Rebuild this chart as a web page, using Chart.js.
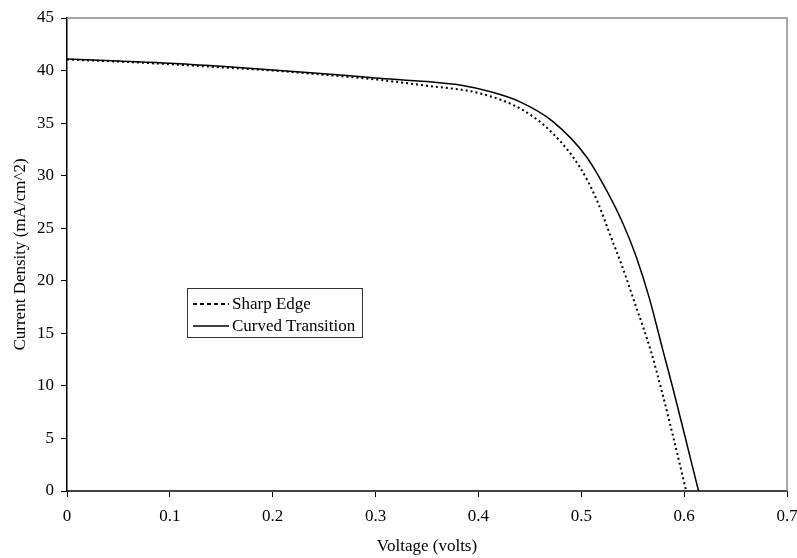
<!DOCTYPE html>
<html>
<head>
<meta charset="utf-8">
<script src="https://cdn.jsdelivr.net/npm/chart.js@4/dist/chart.umd.min.js"></script>
<style>
  html, body { margin: 0; padding: 0; background: #fff; }
  .grafico { position: relative; width: 797px; height: 558px; }
  #legenda {
    position: absolute; left: 187px; top: 288px; width: 176px; height: 50px;
    border: 1px solid #333; background: #fff;
    font: 17px "Liberation Serif", "Times New Roman", serif; color: #000;
    box-sizing: border-box; padding: 4px 0 0 5px;
  }
  #legenda .item { height: 22px; display: flex; align-items: center; }
  #legenda canvas { margin-right: 3px; }
</style>
</head>
<body>
<div class="grafico">
  <canvas id="chartIV" width="797" height="558"></canvas>
  <div id="legenda"></div>
</div>
<script>
// I-V curves (voltage in volts, current density in mA/cm^2)
const voltageSharp = [0, 0.05, 0.1, 0.15, 0.2, 0.25, 0.3, 0.35, 0.401, 0.443, 0.4725, 0.498, 0.515, 0.5275, 0.54, 0.552, 0.568, 0.578, 0.589, 0.602];
const currentSharp = [41.05, 40.85, 40.6, 40.3, 40.0, 39.6, 39.15, 38.55, 37.84, 36.25, 34.0, 30.9, 27.7, 24.5, 21.3, 17.9, 13.2, 9.6, 5.3, 0];

const voltageCurved = [0, 0.05, 0.1, 0.15, 0.2, 0.25, 0.3, 0.35, 0.382, 0.411, 0.44, 0.4725, 0.505, 0.5243, 0.5404, 0.5534, 0.5663, 0.5793, 0.589, 0.6003, 0.614];
const currentCurved = [41.1, 40.9, 40.7, 40.4, 40.05, 39.7, 39.3, 38.95, 38.63, 38.0, 37.04, 35.14, 31.8, 28.64, 25.47, 22.29, 18.3, 13.4, 9.8, 5.4, 0];

const seriesNames = ["Sharp Edge", "Curved Transition"];
const xTicks = [0, 0.1, 0.2, 0.3, 0.4, 0.5, 0.6, 0.7];
const yTicks = [0, 5, 10, 15, 20, 25, 30, 35, 40, 45];

const fonte = { family: '"Liberation Serif", "Times New Roman", serif', size: 17 };

function pares(xs, ys) {
  return xs.map((x, i) => ({ x: x, y: ys[i] }));
}

// gray frame on the top and right side of the plot area
const moldura = {
  id: 'moldura',
  afterDraw(chart) {
    const a = chart.chartArea;
    const ctx = chart.ctx;
    ctx.save();
    ctx.strokeStyle = '#8a8a8a';
    ctx.lineWidth = 1.5;
    ctx.beginPath();
    ctx.moveTo(a.left, a.top);
    ctx.lineTo(a.right, a.top);
    ctx.lineTo(a.right, a.bottom);
    ctx.stroke();
    ctx.restore();
  }
};

const graph = new Chart("chartIV", {
  type: "line",
  data: {
    datasets: [
      {
        label: seriesNames[0],
        data: pares(voltageSharp, currentSharp),
        borderColor: '#000',
        borderWidth: 2,
        borderDash: [2, 3],
        pointRadius: 0,
        cubicInterpolationMode: 'monotone',
        fill: false
      },
      {
        label: seriesNames[1],
        data: pares(voltageCurved, currentCurved),
        borderColor: '#000',
        borderWidth: 1.5,
        pointRadius: 0,
        cubicInterpolationMode: 'monotone',
        fill: false
      }
    ]
  },
  options: {
    responsive: false,
    animation: false,
    layout: { padding: { left: 0, top: 18, right: 10, bottom: 0 } },
    plugins: { legend: { display: false }, tooltip: { enabled: false } },
    scales: {
      x: {
        type: 'linear',
        min: 0, max: 0.7,
        afterBuildTicks: (s) => { s.ticks = xTicks.map(v => ({ value: v })); },
        afterFit: (s) => { s.height = 67; s.paddingLeft = 0; s.paddingRight = 0; },
        grid: { drawOnChartArea: false, drawTicks: true, tickLength: 6, color: '#000', lineWidth: 1 },
        border: { color: '#444', width: 2 },
        ticks: { color: '#000', font: fonte, padding: 9, maxRotation: 0,
                 callback: (v) => String(v) },
        title: { display: true, text: 'Voltage (volts)', color: '#000', font: fonte, padding: { bottom: 1, top: 0 } }
      },
      y: {
        min: 0, max: 45,
        afterBuildTicks: (s) => { s.ticks = yTicks.map(v => ({ value: v })); },
        afterFit: (s) => { s.width = 67; s.paddingTop = 0; s.paddingBottom = 0; },
        grid: { drawOnChartArea: false, drawTicks: true, tickLength: 6, color: '#000', lineWidth: 1 },
        border: { color: '#000', width: 1.5 },
        ticks: { color: '#000', font: fonte, padding: 7 },
        title: { display: true, text: 'Current Density (mA/cm^2)', color: '#000', font: fonte, padding: { top: 10, bottom: 0 } }
      }
    }
  },
  plugins: [moldura]
});

// legend box built from the datasets
function loadLegend(chart) {
  const box = document.getElementById('legenda');
  chart.data.datasets.forEach((ds) => {
    const item = document.createElement('div');
    item.className = 'item';
    const amostra = document.createElement('canvas');
    amostra.width = 36; amostra.height = 10;
    const c = amostra.getContext('2d');
    c.strokeStyle = ds.borderColor;
    c.lineWidth = ds.borderWidth;
    c.setLineDash(ds.borderDash ? [4, 3] : []);
    c.beginPath(); c.moveTo(0, 5); c.lineTo(36, 5); c.stroke();
    const txt = document.createElement('span');
    txt.textContent = ds.label;
    item.appendChild(amostra);
    item.appendChild(txt);
    box.appendChild(item);
  });
}
loadLegend(graph);
</script>
</body>
</html>
